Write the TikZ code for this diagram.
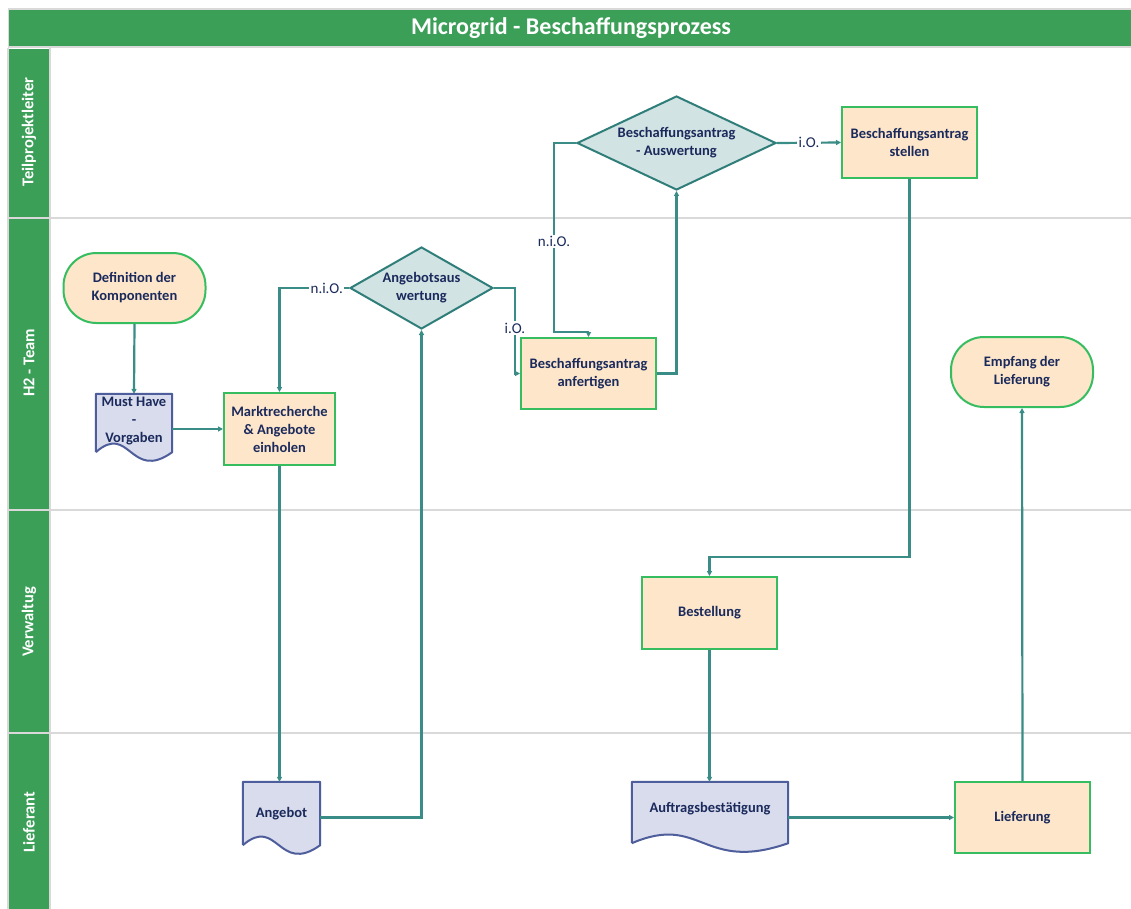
\documentclass[tikz,border=0pt]{standalone}
\usepackage{fontspec}
\setmainfont{Carlito}
\usetikzlibrary{shapes.geometric,arrows.meta}

\definecolor{lanegreen}{HTML}{3C9F58}
\definecolor{gridgray}{HTML}{D9D9D9}
\definecolor{boxfill}{HTML}{FDE6CA}
\definecolor{boxline}{HTML}{35BD5F}
\definecolor{decfill}{HTML}{D2E3E3}
\definecolor{decline}{HTML}{2F7E79}
\definecolor{docfill}{HTML}{D9DCEC}
\definecolor{docline}{HTML}{4E5D9B}
\definecolor{flow}{HTML}{3A8C87}
\definecolor{ink}{HTML}{1B2A5C}

\newcommand{\boxfont}{\fontsize{14.5}{18}\selectfont\bfseries}

\tikzset{
  procbox/.style={draw=boxline, fill=boxfill, line width=2pt,
    minimum width=135pt, minimum height=71pt, align=center,
    font=\boxfont, text=ink, inner sep=2pt},
  terminal/.style={procbox, rounded corners=33pt,
    minimum width=142pt, minimum height=70pt},
  decision/.style={diamond, draw=decline, fill=decfill, line width=2pt,
    inner sep=0pt, align=center, font=\boxfont, text=ink},
  docnode/.style={minimum width=#1, inner sep=0pt},
  docshape/.style={draw=docline, fill=docfill, line width=2pt, line join=round},
  flowline/.style={draw=flow, line width=2.2pt,
    -{Triangle[length=5pt,width=5pt]}},
  cond/.style={fill=white, inner sep=1.5pt, text=ink,
    font=\fontsize{15}{17}\selectfont},
  lanetext/.style={rotate=90, text=white,
    font=\fontsize{16.5}{18}\selectfont\bfseries},
}

\begin{document}
\begin{tikzpicture}[x=1pt,y=-1pt]
\useasboundingbox (0,0) rectangle (1131,909);
\fill[white] (0,0) rectangle (1131,909);

% title bar
\fill[gridgray] (8,8) rectangle (1131,48);
\fill[lanegreen] (9,10) rectangle (1131,46);
\node[text=white, font=\fontsize{24}{26}\selectfont\bfseries] (title)
  at (571,28) {Microgrid - Beschaffungsprozess};

% swimlane grid
\draw[gridgray, line width=2pt] (8,48) -- (8,909);
\draw[gridgray, line width=2pt] (50,48) -- (50,909);
\draw[gridgray, line width=2pt] (8,218) -- (1131,218);
\draw[gridgray, line width=2pt] (8,510) -- (1131,510);
\draw[gridgray, line width=2pt] (8,733) -- (1131,733);

\fill[lanegreen] (9,49) rectangle (49,217);
\fill[lanegreen] (9,219) rectangle (49,509);
\fill[lanegreen] (9,511) rectangle (49,732);
\fill[lanegreen] (9,734) rectangle (49,909);

\node[lanetext] (lane1) at (29,132) {Teilprojektleiter};
\node[lanetext] (lane2) at (29,363) {H2 - Team};
\node[lanetext] (lane3) at (29,622) {Verwaltug};
\node[lanetext] (lane4) at (29,822) {Lieferant};

% process steps
\node[terminal] (def) at (134.5,288) {Definition der\\Komponenten};
\node[procbox, minimum width=111pt, minimum height=72pt] (markt)
  at (279.5,429) {Marktrecherche\\\& Angebote\\einholen};
\node[decision, minimum width=143pt, minimum height=82pt, aspect=1.74]
  (dec1) at (421.5,288) {Angebotsaus\\wertung};
\node[procbox] (anf) at (588.5,373.5) {Beschaffungsantrag\\anfertigen};
\node[decision, minimum width=199pt, minimum height=94pt, aspect=2.12]
  (dec2) at (676.5,143) {Beschaffungsantrag\\- Auswertung};
\node[procbox] (stel) at (909.5,142.5) {Beschaffungsantrag\\stellen};
\node[terminal] (emp) at (1022,372) {Empfang der\\Lieferung};
\node[procbox, minimum height=72pt] (best) at (709.5,613) {Bestellung};
\node[procbox] (lief) at (1022.5,817.5) {Lieferung};

% documents: straight top and sides, wavy bottom edge
\node[docnode=76pt, minimum height=58pt] (must) at (134,423) {};
\path[docshape]
  (must.south west) -- (must.north west) -- (must.north east) -- (must.south east)
  .. controls ([xshift=-42pt,yshift=-30pt]must.south east)
          and ([xshift=34pt,yshift=30pt]must.south west) .. (must.south west);
\node[font=\boxfont, text=ink, align=center] (mustlbl) at ([yshift=2pt]must.center) {Must Have\\-\\Vorgaben};

\node[docnode=77pt, minimum height=63pt] (ang) at (281.5,813.5) {};
\path[docshape]
  (ang.south west) -- (ang.north west) -- (ang.north east) -- (ang.south east)
  .. controls ([xshift=-42pt,yshift=-30pt]ang.south east)
          and ([xshift=35pt,yshift=30pt]ang.south west) .. (ang.south west);
\node[font=\boxfont, text=ink] (anglbl) at (ang) {Angebot};

\node[docnode=156pt, minimum height=61pt] (auf) at (710,812.5) {};
\path[docshape]
  (auf.south west) -- (auf.north west) -- (auf.north east) -- (auf.south east)
  .. controls ([xshift=-86pt,yshift=-30pt]auf.south east)
          and ([xshift=70pt,yshift=30pt]auf.south west) .. (auf.south west);
\node[font=\boxfont, text=ink] (auflbl) at ([yshift=4pt]auf.center) {Auftragsbestätigung};

% connectors
\coordinate (nioIn) at ([yshift=5pt]anf.north);

\path[flowline] (def.south) -- (must.north);
\path[flowline] (markt.west -| must.east) -- (markt.west);
\path[flowline] (markt.south) -- (markt.south |- ang.north);
\path[flowline] ([yshift=-4pt]ang.east) -| (dec1.south);
\path[flowline] (dec1.west) -| node[cond, pos=0.16] {n.i.O.} (markt.north);
\path[flowline] (dec1.east) -- ++(21,0) |- node[cond, pos=0.235] {i.O.} (anf.west);
\path[flowline] (anf.east) -| (dec2.south);
\path[draw=flow, line width=2.2pt] (dec2.west) -- ++(-22,0)
  |- node[cond, pos=0.26] {n.i.O.} (nioIn);
\path[flowline] (nioIn) -- (anf.north);
\path[flowline] (dec2.east) -- node[cond] {i.O.} (stel.west);
\path[flowline] (stel.south) -- ++(0,378) -| (best.north);
\path[flowline] (best.south) -- (best.south |- auf.north);
\path[flowline] (lief.west -| auf.east) -- (lief.west);
\path[flowline] (lief.north) -- (emp.south);
\end{tikzpicture}
\end{document}
